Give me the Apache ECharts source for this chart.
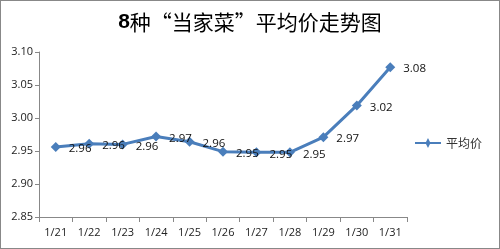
<!DOCTYPE html>
<html><head><meta charset="utf-8">
<script src="https://cdn.jsdelivr.net/npm/echarts@6/dist/echarts.min.js"></script>
<style>html,body{margin:0;padding:0;background:#fff}#c{width:500px;height:249px;box-sizing:border-box;border:1px solid #888}</style>
</head><body><div id="c"></div>
<script>
const titleNum = '8';
const titleText = '种“当家菜”平均价走势图';
const seriesName = '平均价';
const categories = ['1/21','1/22','1/23','1/24','1/25','1/26','1/27','1/28','1/29','1/30','1/31'];
const values = [2.956, 2.961, 2.960, 2.972, 2.964, 2.949, 2.948, 2.948, 2.971, 3.019, 3.077];
const yTicks = [2.85, 3.10, 0.05];
const chart = echarts.init(document.getElementById('c'), null, {renderer:'canvas'});
const font = '"Open Sans", "Noto Sans CJK SC", sans-serif';
chart.setOption({
  animation:false,
  textStyle:{fontFamily:font},
  title:{text:'{a|'+titleNum+'}{b|'+titleText+'}',left:'center',top:6,
    textStyle:{rich:{
      a:{fontSize:21,fontWeight:'bold',color:'#000',fontFamily:'"Liberation Sans",sans-serif'},
      b:{fontSize:21,fontWeight:'normal',color:'#000',fontFamily:'"Noto Sans CJK SC",sans-serif'}}}},
  grid:{left:38,right:92,top:51,bottom:31,containLabel:false},
  legend:{orient:'vertical',right:12,top:131,itemWidth:26,itemHeight:10,
    textStyle:{fontSize:12,color:'#333',fontFamily:'"Noto Sans CJK SC",sans-serif'},
    data:[{name:seriesName,icon:'path://M0,4 L11,4 L13,0 L15,4 L26,4 L26,6 L15,6 L13,10 L11,6 L0,6 Z'}]},
  xAxis:{type:'category',data:categories,boundaryGap:true,
    axisLine:{lineStyle:{color:'#888'}},
    axisTick:{show:true,interval:0,length:5,lineStyle:{color:'#888'}},
    axisLabel:{color:'#222',fontSize:11,margin:10,interval:0}},
  yAxis:{type:'value',min:yTicks[0],max:yTicks[1],interval:yTicks[2],
    splitLine:{show:false},
    axisLine:{show:true,lineStyle:{color:'#888'}},
    axisTick:{show:true,length:4,lineStyle:{color:'#888'}},
    axisLabel:{color:'#222',fontSize:11,margin:6,formatter:v=>v.toFixed(2)}},
  series:[{name:seriesName,type:'line',data:values,
    symbol:'diamond',symbolSize:10,
    lineStyle:{color:'#4a7ebb',width:3},
    itemStyle:{color:'#4a7ebb'},
    label:{show:true,position:'right',distance:8,offset:[0,2],color:'#111',fontSize:11.5,
      formatter:p=>p.value.toFixed(2)}}]
});
</script></body></html>
